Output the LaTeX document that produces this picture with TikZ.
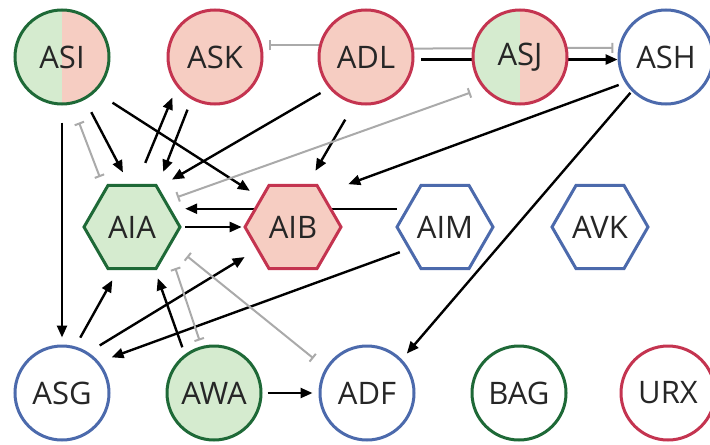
\documentclass[tikz,border=0pt]{standalone}
\usepackage{fontspec}
\setmainfont{Open Sans}
\usetikzlibrary{arrows.meta,shapes.geometric,backgrounds}

\definecolor{grnline}{RGB}{30,105,55}
\definecolor{grnfill}{RGB}{213,235,207}
\definecolor{redline}{RGB}{196,52,80}
\definecolor{redfill}{RGB}{246,205,194}
\definecolor{blueline}{RGB}{76,106,172}
\definecolor{gapgray}{RGB}{170,170,170}

\begin{document}
\begin{tikzpicture}[x=0.5pt, y=-0.5pt,
    neuron/.style={circle, draw, line width=1.5pt, minimum size=47pt, inner sep=0pt,
      font=\fontsize{15.5}{17}\selectfont, text=black!85},
    inter/.style={regular polygon, regular polygon sides=6, draw, line width=1.5pt,
      minimum size=48pt, inner sep=0pt, font=\fontsize{15.5}{17}\selectfont, text=black!85},
    grn/.style={draw=grnline, fill=grnfill},
    rd/.style={draw=redline, fill=redfill},
    blu/.style={draw=blueline, fill=white},
    split/.style={fill=redfill, path picture={
        \fill[grnfill] (path picture bounding box.south west) rectangle (path picture bounding box.north);}},
    syn/.style={-{Triangle[length=6pt,width=5pt]}, line width=1.2pt, black},
    gap/.style={{Bar[width=5pt]}-{Bar[width=5pt]}, line width=1pt, gapgray},
    gapone/.style={-{Bar[width=5pt]}, line width=1pt, gapgray}]

    \useasboundingbox (0,0) rectangle (710,444);

    % Top row: sensory neurons
    \node[neuron, split, draw=grnline] (ASI) at (62,57) {ASI};
    \node[neuron, rd] (ASK) at (215,57) {ASK};
    \node[neuron, rd] (ADL) at (366,57) {ADL};
    \node[neuron, split, draw=redline] (ASJ) at (520,57) {ASJ};
    \node[neuron, blu] (ASH) at (666,57) {ASH};

    % Middle row: interneurons
    \node[inter, grn] (AIA) at (132,227) {AIA};
    \node[inter, rd] (AIB) at (293,227) {AIB};
    \node[inter, blu] (AIM) at (445,227) {AIM};
    \node[inter, blu] (AVK) at (600,227) {AVK};

    % Bottom row
    \node[neuron, blu] (ASG) at (62,393) {ASG};
    \node[neuron, grn] (AWA) at (214,393) {AWA};
    \node[neuron, blu] (ADF) at (367,393) {ADF};
    \node[neuron, draw=grnline, fill=white] (BAG) at (519,393) {BAG};
    \node[neuron, draw=redline, fill=white] (URX) at (668,393) {URX};

    \begin{scope}[on background layer]
      % Chemical synapses
      \draw[syn, shorten <=8.5pt, shorten >=3.5pt] (ASI.south) -- (ASG.north);
      \draw[syn, shorten <=7pt, shorten >=6.5pt] (ASI.-62) -- (AIA.94);
      \draw[syn, shorten <=10pt, shorten >=6.2pt] (ASI.-46) -- (AIB.138);
      \draw[syn, shorten <=11.4pt, shorten >=5.8pt] (AIA.84) -- (ASK.218);
      \draw[syn, shorten <=5.5pt, shorten >=7.4pt] (ASK.-119) -- (AIA.58);
      \draw[syn, shorten <=4.8pt, shorten >=7.6pt] (ADL.-140) -- (AIA.56);
      \draw[syn, shorten <=9pt, shorten >=7.6pt] (ADL.-104) -- (AIB.71);
      \draw[syn, shorten <=3.5pt] (ADL.-3.5) -- (ASH.183.5);
      \draw[syn, shorten <=3.3pt, shorten >=13.3pt] (ASH.-148) -- (AIB.48);
      \draw[syn, shorten <=1pt, shorten >=3.8pt] (ASH.-135) -- (ADF.44);
      \draw[syn, shorten <=1.8pt, shorten >=0.8pt] (AIA.0) -- (AIB.180);
      \draw[syn, shorten <=4.5pt, shorten >=7pt] (AIM.155) -- (AIA.25);
      \draw[syn, shorten <=4.4pt, shorten >=6.6pt] (AIM.-149) -- (ASG.40);
      \draw[syn, shorten <=5pt, shorten >=5.8pt] (ASG.74) -- (AIA.-108);
      \draw[syn, shorten <=6.6pt, shorten >=6.9pt] (ASG.57) -- (AIB.-148);
      \draw[syn, shorten <=3.7pt, shorten >=4.3pt] (AWA.127) -- (AIA.-62);
      \draw[syn, shorten <=2.5pt, shorten >=3pt] (AWA.east) -- (ADF.west);

      % Gap junctions
      \draw[gapone, shorten >=3.7pt] (ADL.166) -- (ASK.14);
      \draw[gapone, shorten >=2.5pt] (ADL.10.6) -- (ASH.169.4);
      \draw[gap, shorten <=9.7pt, shorten >=6.3pt] (ASI.-78) -- (AIA.126);
      \draw[gap, shorten <=6.6pt, shorten >=5.6pt] (ASJ.-140) -- (AIA.37);
      \draw[gap, shorten <=3pt, shorten >=10pt] (AWA.105) -- (AIA.-31);
      \draw[gap, shorten <=7.7pt, shorten >=9.7pt] (ADF.149) -- (AIA.-23);
    \end{scope}
  \end{tikzpicture}
\end{document}
